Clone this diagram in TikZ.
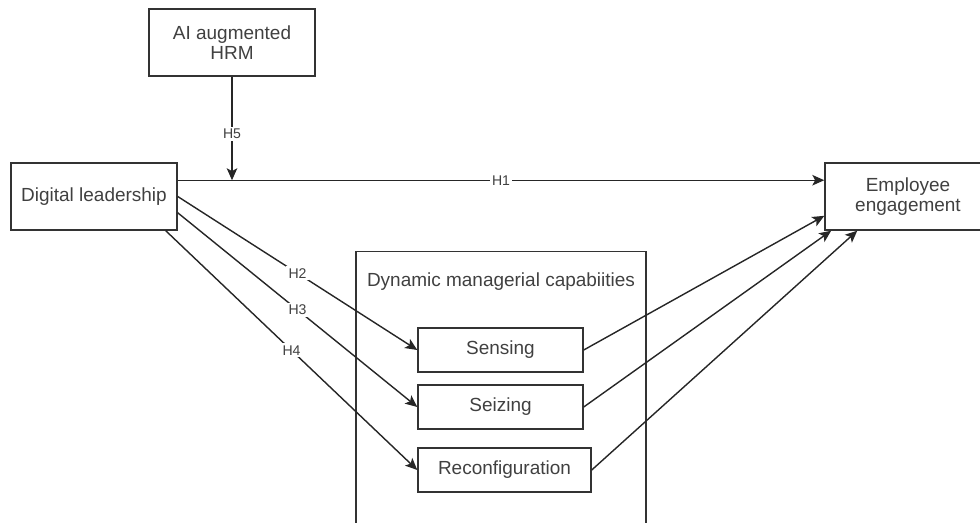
\documentclass[tikz,border=0pt]{standalone}
\usepackage{fontspec}
\setmainfont{Liberation Sans}
\usetikzlibrary{arrows.meta,positioning}

\begin{document}
\begin{tikzpicture}[x=0.025cm, y=-0.025cm,
        every node/.style={text=black!75, font=\fontsize{13.5}{14}\selectfont},
        box/.style={draw=black!80, line width=1pt, inner sep=0pt, align=center,
            minimum width=4.15cm, minimum height=1.675cm},
        capbox/.style={draw=black!80, line width=1pt, inner sep=0pt,
            minimum width=4.125cm, minimum height=1.1cm},
        hyp/.style={fill=white, inner sep=1.5pt, font=\fontsize{10}{11}\selectfont},
        link/.style={draw=black!85, line width=1pt, -{Stealth[length=8.5pt,width=7.5pt,inset=2pt]}}]

        \useasboundingbox (0,0) rectangle (980,523);
        \clip (0,0) rectangle (980,523);

        % main constructs
        \node[box] (hrm) at (232,42.5) {AI augmented\\HRM};
        \node[box] (lead) at (94,196.5) {Digital leadership};
        \node[box] (eng) at (908,196.5) {Employee\\engagement};

        % mediators
        \node[draw=black!80, line width=1pt, minimum width=7.25cm, minimum height=8cm, anchor=north] (dmc) at (501,251) {};
        \node (dmctitle) at ([yshift=-0.775cm]dmc.north) {Dynamic managerial capabiities};
        \node[capbox] (sens) at (500.5,350) {Sensing};
        \node[capbox] (seiz) at (500.5,407) {Seizing};
        \node[capbox, minimum width=4.325cm] (reco) at (504.5,470) {Reconfiguration};

        % hypotheses
        \draw[link] (lead.11) -- node[hyp]{H1} (eng.169);
        \draw[link] (hrm) -- node[hyp, pos=0.55]{H5} (hrm.south |- lead.11);
        \draw[link] (lead.east) -- node[hyp]{H2} (sens.west);
        \draw[link] (lead.-11) -- node[hyp]{H3} (seiz.west);
        \draw[link] ([xshift=-0.3cm]lead.south east) -- node[hyp]{H4} (reco.west);

        \draw[link] (sens.east) -- (eng.193);
        \draw[link] (seiz.east) -- (eng.204);
        \draw[link] (reco.east) -- (eng.214);
\end{tikzpicture}
\end{document}
